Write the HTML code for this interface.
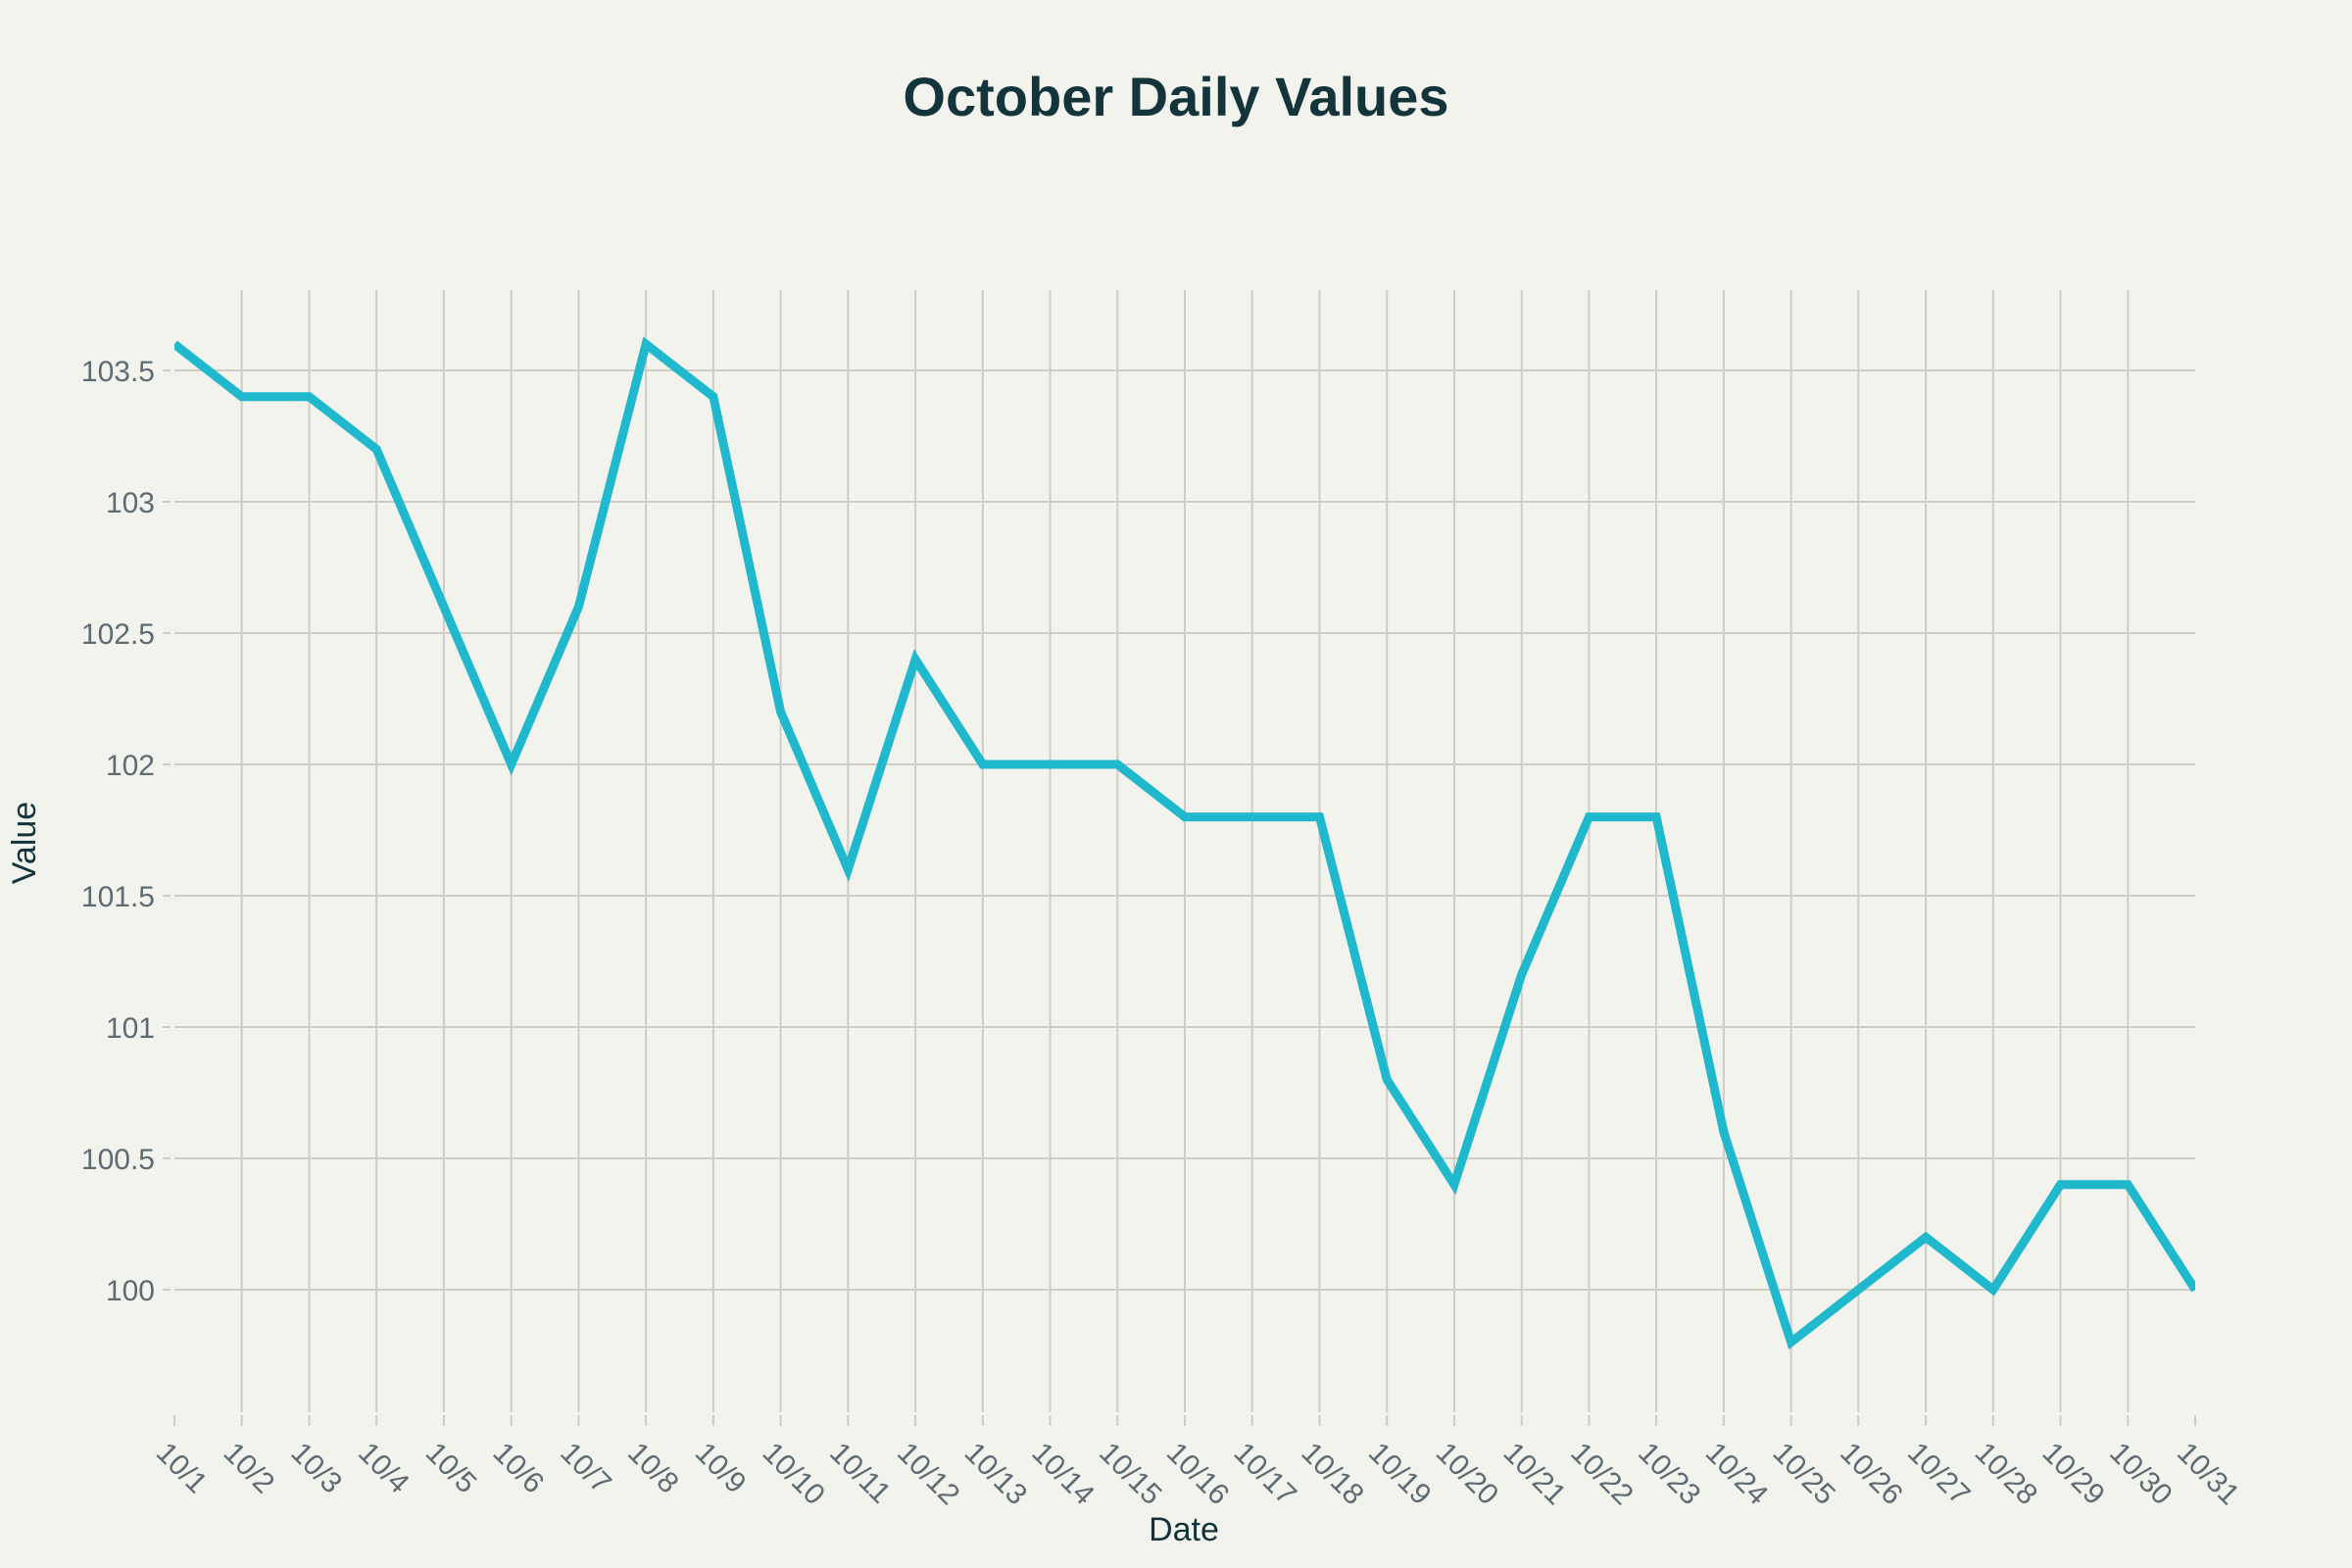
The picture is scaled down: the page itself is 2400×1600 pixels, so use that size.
<!DOCTYPE html>
<html><head><meta charset="utf-8"><style>
html,body{margin:0;padding:0;background:#f3f3ee;}
svg{display:block;}
text{font-family:"Liberation Sans",sans-serif;}
</style></head><body>
<svg width="2400" height="1600" viewBox="0 0 2400 1600" xmlns="http://www.w3.org/2000/svg">
<rect width="2400" height="1600" fill="#f3f3ee"/>
<text x="1200" y="118" text-anchor="middle" font-size="56" font-weight="bold" fill="#13343b">October Daily Values</text>
<path fill="none" stroke="#cfcbc5" stroke-width="2" d="
M178 378H2240M178 512H2240M178 646H2240M178 780H2240M178 914H2240M178 1048H2240M178 1182H2240M178 1316H2240
M166 378H174M166 512H174M166 646H174M166 780H174M166 914H174M166 1048H174M166 1182H174M166 1316H174
M246.7 296V1441M315.5 296V1441M384.2 296V1441M452.9 296V1441M521.7 296V1441M590.4 296V1441M659.1 296V1441M727.9 296V1441M796.6 296V1441M865.3 296V1441M934.1 296V1441M1002.8 296V1441M1071.5 296V1441M1140.3 296V1441M1209 296V1441M1277.7 296V1441M1346.5 296V1441M1415.2 296V1441M1483.9 296V1441M1552.7 296V1441M1621.4 296V1441M1690.1 296V1441M1758.9 296V1441M1827.6 296V1441M1896.3 296V1441M1965.1 296V1441M2033.8 296V1441M2102.5 296V1441M2171.3 296V1441
M178 1444V1455M246.7 1444V1455M315.5 1444V1455M384.2 1444V1455M452.9 1444V1455M521.7 1444V1455M590.4 1444V1455M659.1 1444V1455M727.9 1444V1455M796.6 1444V1455M865.3 1444V1455M934.1 1444V1455M1002.8 1444V1455M1071.5 1444V1455M1140.3 1444V1455M1209 1444V1455M1277.7 1444V1455M1346.5 1444V1455M1415.2 1444V1455M1483.9 1444V1455M1552.7 1444V1455M1621.4 1444V1455M1690.1 1444V1455M1758.9 1444V1455M1827.6 1444V1455M1896.3 1444V1455M1965.1 1444V1455M2033.8 1444V1455M2102.5 1444V1455M2171.3 1444V1455M2240 1444V1455"/>
<g font-size="30" fill="#5e6b73" text-anchor="end">
<text x="158" y="389">103.5</text>
<text x="158" y="523">103</text>
<text x="158" y="657">102.5</text>
<text x="158" y="791">102</text>
<text x="158" y="925">101.5</text>
<text x="158" y="1059">101</text>
<text x="158" y="1193">100.5</text>
<text x="158" y="1327">100</text>
</g>
<g font-size="30" fill="#5e6b73">
<text transform="translate(172,1470) rotate(45)" y="20">10/1</text>
<text transform="translate(240.7,1470) rotate(45)" y="20">10/2</text>
<text transform="translate(309.5,1470) rotate(45)" y="20">10/3</text>
<text transform="translate(378.2,1470) rotate(45)" y="20">10/4</text>
<text transform="translate(446.9,1470) rotate(45)" y="20">10/5</text>
<text transform="translate(515.7,1470) rotate(45)" y="20">10/6</text>
<text transform="translate(584.4,1470) rotate(45)" y="20">10/7</text>
<text transform="translate(653.1,1470) rotate(45)" y="20">10/8</text>
<text transform="translate(721.9,1470) rotate(45)" y="20">10/9</text>
<text transform="translate(790.6,1470) rotate(45)" y="20">10/10</text>
<text transform="translate(859.3,1470) rotate(45)" y="20">10/11</text>
<text transform="translate(928.1,1470) rotate(45)" y="20">10/12</text>
<text transform="translate(996.8,1470) rotate(45)" y="20">10/13</text>
<text transform="translate(1065.5,1470) rotate(45)" y="20">10/14</text>
<text transform="translate(1134.3,1470) rotate(45)" y="20">10/15</text>
<text transform="translate(1203,1470) rotate(45)" y="20">10/16</text>
<text transform="translate(1271.7,1470) rotate(45)" y="20">10/17</text>
<text transform="translate(1340.5,1470) rotate(45)" y="20">10/18</text>
<text transform="translate(1409.2,1470) rotate(45)" y="20">10/19</text>
<text transform="translate(1477.9,1470) rotate(45)" y="20">10/20</text>
<text transform="translate(1546.7,1470) rotate(45)" y="20">10/21</text>
<text transform="translate(1615.4,1470) rotate(45)" y="20">10/22</text>
<text transform="translate(1684.1,1470) rotate(45)" y="20">10/23</text>
<text transform="translate(1752.9,1470) rotate(45)" y="20">10/24</text>
<text transform="translate(1821.6,1470) rotate(45)" y="20">10/25</text>
<text transform="translate(1890.3,1470) rotate(45)" y="20">10/26</text>
<text transform="translate(1959.1,1470) rotate(45)" y="20">10/27</text>
<text transform="translate(2027.8,1470) rotate(45)" y="20">10/28</text>
<text transform="translate(2096.5,1470) rotate(45)" y="20">10/29</text>
<text transform="translate(2165.3,1470) rotate(45)" y="20">10/30</text>
<text transform="translate(2234,1470) rotate(45)" y="20">10/31</text>
</g>
<defs><clipPath id="c"><rect x="178" y="290" width="2062" height="1152"/></clipPath></defs>
<polyline clip-path="url(#c)" fill="none" stroke="#1fb8cd" stroke-width="9" stroke-linejoin="miter" points="178,351.2 246.7,404.8 315.5,404.8 384.2,458.4 452.9,619.2 521.7,780 590.4,619.2 659.1,351.2 727.9,404.8 796.6,726.4 865.3,887.2 934.1,672.8 1002.8,780 1071.5,780 1140.3,780 1209,833.6 1277.7,833.6 1346.5,833.6 1415.2,1101.6 1483.9,1208.8 1552.7,994.4 1621.4,833.6 1690.1,833.6 1758.9,1155.2 1827.6,1369.6 1896.3,1316 1965.1,1262.4 2033.8,1316 2102.5,1208.8 2171.3,1208.8 2240,1316"/>
<text x="1208" y="1572" text-anchor="middle" font-size="34" fill="#13343b">Date</text>
<text transform="translate(36,860) rotate(-90)" text-anchor="middle" font-size="34" fill="#13343b">Value</text>
</svg>
</body></html>
